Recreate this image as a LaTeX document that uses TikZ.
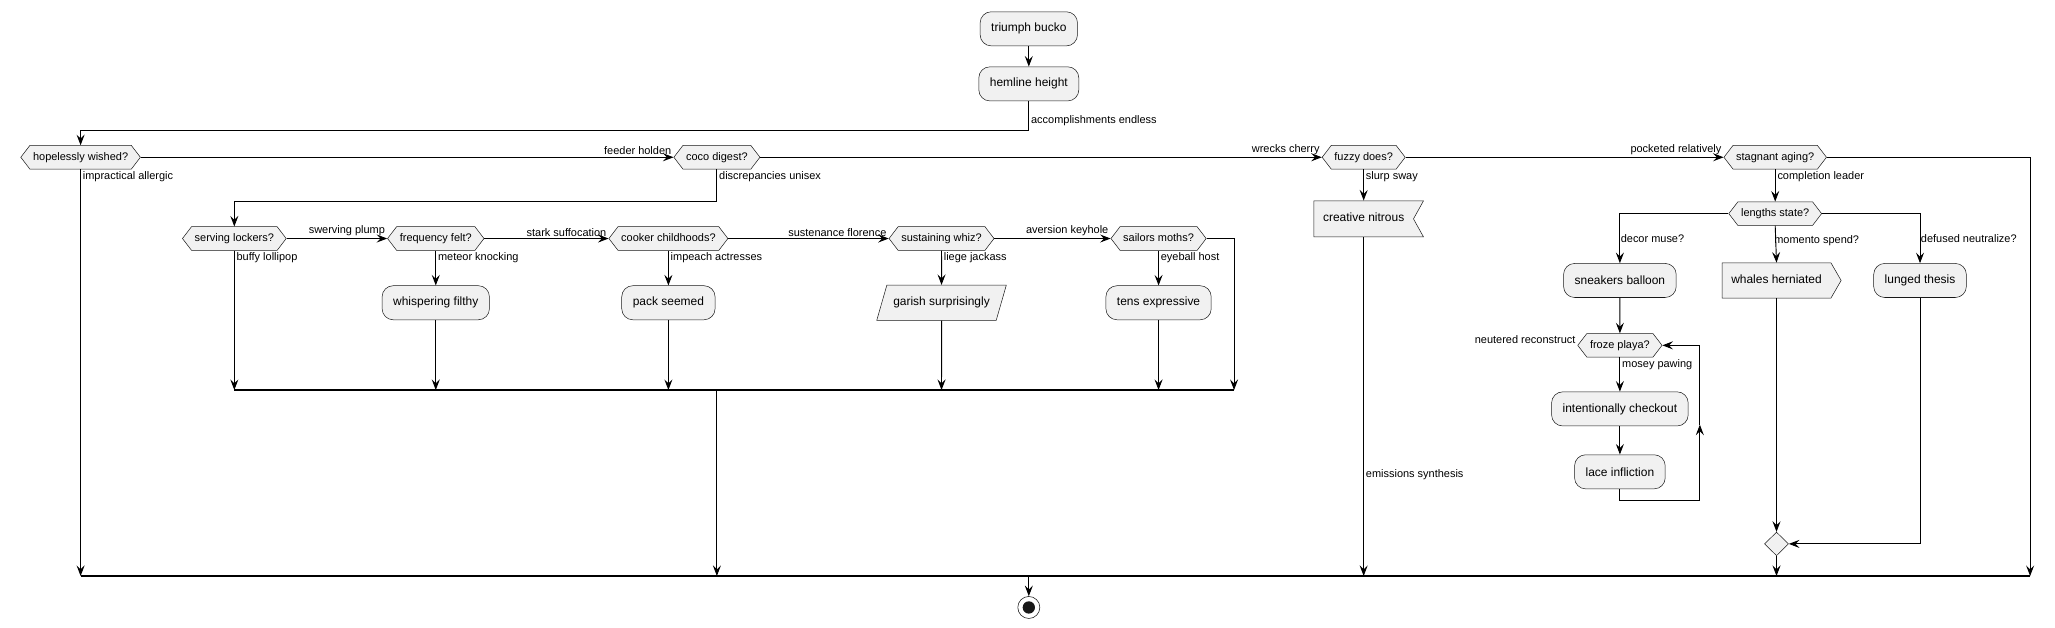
\documentclass[tikz,border=0pt]{standalone}
\usepackage{fontspec}
\setmainfont{Liberation Sans}
\usetikzlibrary{arrows.meta,shapes.symbols,shapes.geometric}
\definecolor{boxfill}{HTML}{F1F1F1}
\definecolor{boxline}{HTML}{181818}

\begin{document}
\begin{tikzpicture}[x=0.05cm,y=-0.05cm,
  act/.style={draw=boxline,line width=.55pt,fill=boxfill,rounded corners=12pt,
    font=\fontsize{13}{15}\selectfont,inner xsep=12pt,minimum height=1.3cm},
  dec/.style={signal,signal to=east and west,signal pointer angle=105,draw=boxline,
    line width=.55pt,fill=boxfill,font=\fontsize{11.9}{13}\selectfont,
    text height=8.6pt,text depth=2.4pt,inner xsep=3.5pt,inner ysep=7.3pt},
  recvbox/.style={signal,signal to=nowhere,signal from=east,signal pointer angle=122,
    draw=boxline,line width=.55pt,fill=boxfill,font=\fontsize{13}{15}\selectfont,
    text height=9.4pt,text depth=2.7pt,inner xsep=10pt,inner ysep=13.6pt},
  sendbox/.style={signal,signal to=east,signal pointer angle=120,
    draw=boxline,line width=.55pt,fill=boxfill,font=\fontsize{13}{15}\selectfont,
    text height=9.4pt,text depth=2.7pt,inner xsep=10pt,inner ysep=13pt},
  iobox/.style={trapezium,trapezium left angle=74,trapezium right angle=106,
    draw=boxline,line width=.55pt,fill=boxfill,font=\fontsize{13}{15}\selectfont,
    text height=9.4pt,text depth=2.7pt,inner xsep=7pt,inner ysep=13pt},
  merge/.style={diamond,draw=boxline,line width=.55pt,fill=boxfill,inner sep=0pt,
    minimum width=.92cm,minimum height=.9cm},
  stopnode/.style={circle,draw=boxline,line width=.6pt,fill=white,inner sep=0pt,minimum size=.84cm},
  lbl/.style={font=\fontsize{11.9}{13}\selectfont,inner sep=2pt},
  arr/.style={line width=1pt,-{Stealth[length=11.5pt,width=8.7pt,inset=4.3pt]}},
  bar/.style={line width=1.4pt}]
  \useasboundingbox (0,0) rectangle (1568,479);

  \node [act] (triumph) at (785,22) {triumph bucko};
  \node [act] (hemline) at (785,64) {hemline height};
  \node [dec] (hopeless) at (61.5,120) {hopelessly wished?};
  \node [dec] (coco) at (547,120) {coco digest?};
  \node [dec] (fuzzy) at (1040.5,120) {fuzzy does?};
  \node [dec] (stagnant) at (1354.5,120) {stagnant aging?};

  \node [dec] (serving) at (178.8,182) {serving lockers?};
  \node [dec] (frequency) at (332.5,182) {frequency felt?};
  \node [dec] (cooker) at (510,182) {cooker childhoods?};
  \node [dec] (sustaining) at (718.4,182) {sustaining whiz?};
  \node [dec] (sailors) at (884,182) {sailors moths?};
  \node [act] (whisper) at (332.5,231) {whispering filthy};
  \node [act] (pack) at (510,231) {pack seemed};
  \node [iobox] (garish) at (718.4,231) {garish surprisingly};
  \node [act] (tens) at (884,231) {tens expressive};

  \node [recvbox] (creative) at (1040.5,167) {creative nitrous};
  \node [dec] (lengths) at (1354.5,163) {lengths state?};
  \node [act] (sneakers) at (1236,214) {sneakers balloon};
  \node [sendbox] (whales) at (1355.5,214) {whales herniated};
  \node [act] (lunged) at (1465,214) {lunged thesis};
  \node [dec] (froze) at (1236,263.5) {froze playa?};
  \node [act] (checkout) at (1236,312) {intentionally checkout};
  \node [act] (lace) at (1236,360) {lace infliction};
  \node [merge] (join) at (1355.5,415) {};
  \node [stopnode] (stop) at (785,463.5) {};
  \fill [boxline] (stop) circle (0.235cm);

  \coordinate (top) at (785,99.2);
  \coordinate (cocoturn) at (547,153.4);
  \coordinate (b1l) at (178.8,297.6);
  \coordinate (b1r) at (941.6,297.6);
  \coordinate (b2l) at (61.5,439.5);
  \coordinate (b2r) at (1549,439.5);
  \coordinate (loop) at (1297,381.5);
  \coordinate (looptip) at (1297,324);
  \draw [bar] (b1l) -- (b1r);
  \draw [bar] (b2l) -- (b2r);

  \draw [arr] (triumph) -- (hemline);
  \draw [arr] (hemline.south) -- node [lbl,anchor=west,pos=.66] {accomplishments endless} (top) -| (hopeless.north);
  \draw [arr] (hopeless.east) -- node [lbl,anchor=south east,pos=1] {feeder holden} (coco.west);
  \draw [arr] (coco.east) -- node [lbl,anchor=south east,pos=1] {wrecks cherry} (fuzzy.west);
  \draw [arr] (fuzzy.east) -- node [lbl,anchor=south east,pos=1] {pocketed relatively} (stagnant.west);
  \draw [arr] (stagnant.east) -| (b2r);
  \draw [arr] (hopeless.south) -- node [lbl,anchor=north west,pos=0] {impractical allergic} (b2l);
  \draw [arr] (coco.south) -- node [lbl,anchor=north west,pos=0] {discrepancies unisex} (cocoturn) -| (serving.north);

  \draw [arr] (serving.east) -- node [lbl,anchor=south east,pos=1] {swerving plump} (frequency.west);
  \draw [arr] (frequency.east) -- node [lbl,anchor=south east,pos=1] {stark suffocation} (cooker.west);
  \draw [arr] (cooker.east) -- node [lbl,anchor=south east,pos=1] {sustenance florence} (sustaining.west);
  \draw [arr] (sustaining.east) -- node [lbl,anchor=south east,pos=1] {aversion keyhole} (sailors.west);
  \draw [arr] (sailors.east) -| (b1r);
  \draw [arr] (serving.south) -- node [lbl,anchor=north west,pos=0] {buffy lollipop} (b1l);
  \draw [arr] (frequency.south) -- node [lbl,anchor=north west,pos=0] {meteor knocking} (whisper.north);
  \draw [arr] (cooker.south) -- node [lbl,anchor=north west,pos=0] {impeach actresses} (pack.north);
  \draw [arr] (sustaining.south) -- node [lbl,anchor=north west,pos=0] {liege jackass} (garish.north);
  \draw [arr] (sailors.south) -- node [lbl,anchor=north west,pos=0] {eyeball host} (tens.north);
  \draw [arr] (whisper.south) -- (whisper |- b1l);
  \draw [arr] (pack.south) -- (pack |- b1l);
  \draw [arr] (garish.south) -- (garish |- b1l);
  \draw [arr] (tens.south) -- (tens |- b1l);
  \draw [arr] (coco |- b1l) -- (coco |- b2l);

  \draw [arr] (fuzzy.south) -- node [lbl,anchor=north west,pos=0] {slurp sway} (creative.north);
  \draw [arr] (creative.south) -- node [lbl,anchor=west,pos=.7] {emissions synthesis} (creative |- b2l);
  \draw [arr] (stagnant.south) -- node [lbl,anchor=north west,pos=0] {completion leader} (lengths.north);
  \draw [arr] (lengths.west) -| node [lbl,anchor=west,inner xsep=.5pt,pos=.75] {decor muse?} (sneakers.north);
  \draw [arr] (lengths.south) -- node [lbl,anchor=west,xshift=-4pt,pos=.4] {momento spend?} (whales.north);
  \draw [arr] (lengths.east) -| node [lbl,anchor=west,inner xsep=.5pt,pos=.75] {defused neutralize?} (lunged.north);
  \draw [arr] (sneakers) -- (froze);
  \node [lbl,anchor=south east] at (froze.west) {neutered reconstruct};
  \draw [arr] (froze.south) -- node [lbl,anchor=north west,pos=0] {mosey pawing} (checkout.north);
  \draw [arr] (checkout) -- (lace);
  \draw [arr] (lace.south) |- (loop) -- (looptip);
  \draw [arr] (looptip) |- (froze.east);
  \draw [arr] (whales.south) -- (join.north);
  \draw [arr] (lunged.south) |- (join.east);
  \draw [arr] (join.south) -- (join |- b2l);
  \draw [arr] (stop |- b2l) -- (stop.north);
\end{tikzpicture}
\end{document}
